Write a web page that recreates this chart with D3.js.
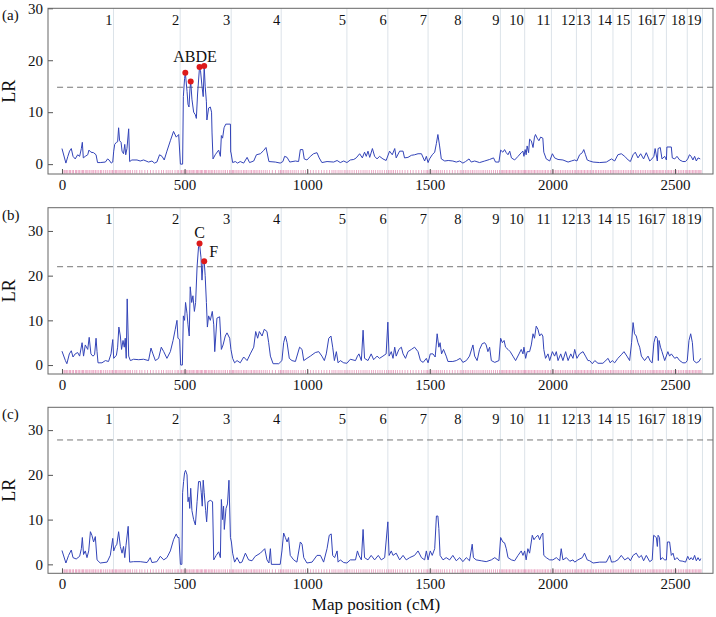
<!DOCTYPE html>
<html><head><meta charset="utf-8">
<script src="https://cdn.jsdelivr.net/npm/d3@7"></script>
<style>
body{margin:0;background:#fff;}
svg, svg text{font-family:"Liberation Serif","Times New Roman",serif;}
</style></head><body>
<svg id="chart" width="716" height="617"></svg>
<script>
// ---------------- data ----------------
const chromEnds = [210,482,690,894,1162,1329,1493,1633,1788,1887,1996,2098,2159,2247,2322,2410,2465,2550,2612];
const chromLabels = ["1","2","3","4","5","6","7","8","9","10","11","12","13","14","15","16","17","18","19"];
const xTicks = [0,500,1000,1500,2000,2500];
const yTicks = [0,10,20,30];
const panelNames = ["(a)","(b)","(c)"];
const thresholds = [14.8, 22.0, 27.8];

const seriesA = [[0,3.0],[16,0.2],[24,1.5],[31,2.5],[38,3.0],[45,1.5],[54,1.0],[64,1.8],[72,1.5],[79,3.0],[83,4.2],[87,1.2],[95,1.5],[105,1.8],[110,2.7],[118,2.3],[129,2.2],[139,1.8],[145,0.3],[156,0.3],[177,0.4],[186,1.0],[192,0.8],[201,0.2],[207,0.4],
[211,2.5],[215,3.8],[222,4.2],[227,4.3],[231,7.0],[235,4.5],[241,4.2],[245,2.5],[251,2.0],[256,3.8],[260,1.8],[265,3.0],[272,6.8],[276,0.5],[285,0.8],[306,0.8],[319,0.6],[333,0.8],[353,0.4],[367,0.6],[377,0.2],[387,0.4],[398,1.8],[408,1.5],[417,0.8],[428,2.5],[442,4.5],[455,6.3],[466,5.2],[476,5.7],
[483,0],[492,0],[495,13.0],[500,16.5],[503,17.6],[510,14.0],[514,11.5],[518,11.0],[522,14.5],[525,15.9],[530,12.5],[537,10.0],[544,9.5],[548,8.8],[553,13.5],[561,18.7],[565,18.0],[571,15.0],[576,13.0],[580,18.9],[584,15.0],[589,12.0],[591,8.5],[598,10.8],[605,11.0],[610,10.0],[612,6.0],[616,1.0],[625,1.8],[639,2.7],[646,1.5],[650,5.5],[655,5.0],[661,7.0],[668,7.7],[687,7.7],[688,2.3],[689,2.3],
[696,0.3],[707,0.5],[716,0.2],[727,0.5],[741,0.2],[755,1.3],[765,0.3],[782,0.6],[793,1.8],[809,2.0],[822,2.6],[832,3.2],[844,0.5],[870,0.4],[890,0.2],
[901,0.5],[908,1.5],[918,1.3],[929,0.4],[952,0.6],[965,0.5],[972,2.8],[982,2.8],[988,1.0],[999,0.8],[1013,1.5],[1026,2.0],[1040,2.2],[1049,1.2],[1060,0.3],[1081,0.5],[1108,0.4],[1122,0.7],[1135,0.3],[1149,0.6],[1162,0.3],
[1176,0.8],[1190,0.9],[1200,1.2],[1214,2.0],[1225,1.2],[1234,2.3],[1241,1.5],[1248,2.5],[1255,1.3],[1266,3.0],[1275,1.5],[1285,1.0],[1295,1.5],[1309,1.0],[1322,0.7],
[1336,2.5],[1347,1.8],[1357,3.0],[1363,1.2],[1377,2.5],[1391,2.5],[1397,1.2],[1411,1.3],[1425,1.7],[1438,1.8],[1452,2.0],[1466,2.0],[1479,0.6],[1486,1.5],[1493,0.3],
[1499,1.0],[1510,1.8],[1520,2.3],[1527,4.0],[1533,5.7],[1540,3.5],[1547,1.0],[1561,0.6],[1575,0.7],[1594,0.6],[1608,0.4],[1622,0.6],
[1635,0.2],[1646,0.5],[1660,1.0],[1669,0.4],[1683,0.6],[1703,0.3],[1724,0.6],[1744,0.9],[1760,1.2],[1768,0.4],[1782,0.4],
[1789,2.7],[1798,2.3],[1805,2.8],[1812,2.2],[1819,1.8],[1826,2.5],[1833,1.2],[1846,0.8],[1860,1.5],[1873,2.2],[1880,2.5],[1884,1.5],
[1889,2.8],[1893,1.8],[1897,3.5],[1903,2.2],[1907,4.8],[1914,4.5],[1921,3.2],[1927,5.2],[1931,5.7],[1938,5.0],[1945,4.5],[1952,5.2],[1961,5.0],[1965,2.3],[1975,1.0],[1989,0.6],
[2000,2.0],[2009,1.2],[2023,0.9],[2043,0.8],[2064,0.4],[2077,0.6],[2091,0.8],
[2100,0.6],[2111,1.8],[2122,2.2],[2128,2.8],[2135,1.8],[2142,0.8],[2152,0.6],
[2166,0.4],[2193,0.3],[2220,0.4],[2241,1.0],
[2254,0.6],[2267,1.8],[2281,2.0],[2295,1.5],[2309,0.8],[2318,0.5],
[2329,1.8],[2338,2.3],[2349,1.2],[2360,2.0],[2372,1.0],[2383,2.2],[2397,0.6],[2406,1.0],
[2414,1.5],[2419,3.0],[2428,0.6],[2431,3.0],[2440,3.2],[2447,1.0],[2458,1.5],
[2465,0.8],[2467,3.3],[2485,3.3],[2489,1.2],[2499,1.0],[2508,1.5],[2519,0.8],[2532,0.5],[2543,0.5],
[2552,1.0],[2559,1.8],[2566,1.5],[2573,0.8],[2580,1.5],[2587,0.6],[2594,1.2],[2603,1.0]];

const seriesB = [[0,3.1],[14,1.0],[20,0.3],[30,2.5],[38,3.2],[45,1.8],[54,2.5],[64,2.8],[72,2.0],[82,5.0],[88,2.0],[95,4.5],[105,3.5],[111,6.2],[118,2.5],[126,2.0],[133,2.3],[139,6.0],[143,3.0],[147,0.5],[163,0.5],[177,1.0],[190,0.8],[200,2.5],[207,5.7],
[211,1.5],[222,2.2],[227,4.0],[232,8.5],[238,6.5],[243,3.5],[249,5.5],[254,4.0],[258,6.0],[262,1.5],[266,14.8],[272,2.0],[279,1.0],[292,1.3],[313,1.2],[333,1.3],[353,1.0],[363,3.8],[371,2.5],[381,1.0],[394,1.5],[405,4.0],[415,3.0],[428,1.5],[442,3.0],[453,5.5],[462,8.0],[469,10.0],[473,6.0],[480,5.7],
[484,0],[491,0],[495,11.0],[500,10.0],[504,14.0],[510,11.5],[514,9.0],[519,6.5],[523,17.5],[529,14.0],[534,15.5],[540,12.0],[545,14.0],[551,22.0],[557,26.5],[561,27.2],[567,24.0],[571,19.0],[576,23.5],[580,23.2],[584,20.0],[589,14.0],[593,8.5],[598,11.0],[605,10.0],[613,12.0],[619,9.0],[623,3.0],[632,10.5],[643,10.8],[650,3.5],[657,4.5],[666,6.5],[673,7.2],[684,6.0],[689,3.5],
[696,1.5],[704,0.5],[714,1.0],[727,0.5],[741,1.8],[755,1.0],[768,2.5],[782,4.0],[790,7.5],[798,6.0],[805,7.5],[816,6.5],[825,8.0],[836,7.5],[843,5.0],[850,2.0],[861,0.3],[884,0.3],
[897,1.0],[904,5.0],[911,6.5],[918,5.0],[927,1.5],[938,1.0],[952,0.8],[969,4.0],[979,3.5],[986,1.0],[999,1.5],[1013,2.0],[1033,2.8],[1047,3.0],[1060,2.0],[1070,1.0],[1078,2.5],[1088,6.0],[1097,6.5],[1104,4.0],[1111,1.0],[1119,3.0],[1126,0.5],[1135,1.0],[1149,0.5],[1162,0.4],
[1176,1.3],[1197,1.0],[1205,2.0],[1211,2.5],[1221,1.0],[1228,7.8],[1234,1.5],[1248,1.0],[1261,2.5],[1271,1.2],[1285,2.0],[1295,1.5],[1309,2.0],[1322,2.5],[1329,9.6],
[1334,2.0],[1343,3.0],[1350,1.5],[1357,4.0],[1363,2.0],[1374,3.5],[1384,4.0],[1391,2.5],[1401,1.5],[1411,3.0],[1425,3.5],[1438,4.0],[1452,3.0],[1462,1.0],[1473,0.6],[1486,1.5],[1493,0.5],
[1502,2.5],[1513,2.5],[1522,1.8],[1530,7.0],[1537,4.0],[1542,5.0],[1548,2.5],[1556,3.5],[1567,2.0],[1574,0.8],[1594,0.8],[1608,1.0],[1624,1.5],
[1635,0.6],[1649,1.0],[1662,2.0],[1676,4.5],[1683,2.0],[1693,1.0],[1703,3.5],[1714,4.8],[1724,5.0],[1730,4.5],[1737,3.0],[1744,4.0],[1751,1.0],[1765,0.6],[1782,1.0],
[1789,6.0],[1796,5.0],[1803,5.5],[1809,4.0],[1819,3.5],[1828,3.0],[1839,2.0],[1850,1.0],[1864,2.5],[1873,3.5],[1880,2.5],[1884,4.0],[1891,1.5],[1897,3.0],
[1907,3.0],[1914,4.5],[1921,7.0],[1927,6.0],[1934,8.7],[1941,8.0],[1948,6.5],[1955,7.0],[1961,6.5],[1965,3.5],[1972,1.5],[1982,2.5],[1989,1.0],
[2000,3.0],[2009,2.0],[2016,3.0],[2023,1.0],[2034,2.5],[2043,1.0],[2054,3.0],[2064,1.0],[2075,2.5],[2084,1.5],[2091,3.5],
[2100,1.5],[2111,2.5],[2125,3.0],[2135,2.0],[2145,1.0],[2152,1.0],
[2163,0.3],[2173,1.0],[2186,0.4],[2206,0.4],[2227,1.5],[2236,0.5],[2244,1.0],
[2254,0.5],[2267,1.5],[2281,2.3],[2292,3.0],[2304,2.0],[2315,1.0],
[2323,5.0],[2329,9.5],[2335,7.0],[2342,6.5],[2349,5.0],[2356,4.0],[2363,2.0],[2376,1.0],[2390,2.0],[2400,0.8],[2407,0.5],
[2414,5.0],[2421,6.5],[2428,6.0],[2432,1.0],[2435,5.5],[2441,4.0],[2447,3.0],[2458,1.0],
[2471,3.0],[2478,2.0],[2485,2.5],[2499,1.5],[2508,1.8],[2519,1.0],[2532,0.5],[2543,0.5],
[2550,1.0],[2557,5.5],[2564,7.0],[2571,5.0],[2576,1.0],[2587,0.5],[2598,0.8],[2605,1.5]];

const seriesC = [[0,3.1],[16,0.3],[27,2.0],[38,3.2],[45,1.5],[58,1.2],[72,1.8],[79,3.5],[83,6.0],[88,2.2],[95,3.0],[102,1.5],[109,3.0],[116,7.3],[122,6.5],[129,5.0],[136,6.2],[143,1.0],[156,0.3],[184,0.5],[197,2.0],[207,5.8],
[211,3.0],[218,4.0],[224,4.5],[231,7.3],[238,4.0],[245,2.5],[251,4.0],[256,1.5],[261,4.2],[270,8.5],[276,0.5],[292,0.6],[319,0.6],[347,0.4],[360,1.5],[367,0.4],[387,0.6],[401,1.8],[415,1.0],[428,1.5],[442,3.0],[455,5.5],[466,6.8],[472,6.0],[477,6.0],
[483,0],[489,0],[492,16.0],[496,18.5],[500,20.5],[504,21.0],[510,20.0],[514,14.0],[518,15.0],[521,12.5],[525,17.0],[530,12.0],[537,10.0],[544,8.8],[551,14.0],[557,18.5],[564,18.5],[568,16.0],[572,13.0],[576,18.8],[580,16.0],[586,12.0],[590,9.5],[595,14.0],[605,14.3],[614,14.0],[619,1.0],[629,2.0],[639,2.8],[646,1.5],[650,14.5],[655,10.0],[659,13.0],[662,7.8],[669,12.5],[675,13.5],[681,18.8],[687,6.0],[691,5.0],
[696,2.5],[704,0.5],[714,1.5],[725,0.3],[734,0.5],[748,2.5],[761,1.0],[775,0.8],[788,1.8],[809,2.5],[827,3.5],[836,1.0],[844,0.3],[850,3.5],[854,0],[890,0],
[897,3.0],[904,7.0],[911,6.0],[918,5.0],[924,6.0],[931,2.0],[945,1.0],[958,0.5],[972,5.0],[979,4.5],[986,1.5],[999,0.3],[1020,0.5],[1040,2.0],[1054,2.0],[1067,0.5],[1081,3.5],[1090,6.5],[1098,6.8],[1104,2.0],[1112,1.5],[1122,3.0],[1126,0.5],[1135,1.0],[1149,0.4],[1162,0.3],
[1176,1.0],[1197,1.0],[1205,3.0],[1211,2.0],[1221,1.0],[1228,7.8],[1234,1.5],[1248,1.0],[1261,2.0],[1275,1.0],[1290,2.0],[1302,1.0],[1316,1.5],[1329,9.5],
[1334,2.0],[1343,3.0],[1350,2.0],[1363,2.5],[1377,1.0],[1391,2.0],[1404,1.0],[1418,1.5],[1438,2.0],[1452,3.0],[1466,1.5],[1479,1.0],[1486,3.0],[1493,1.0],
[1502,3.0],[1510,2.0],[1520,3.5],[1527,10.8],[1533,10.8],[1537,8.0],[1542,2.0],[1554,1.0],[1567,1.5],[1581,1.0],[1594,2.0],[1608,0.8],[1622,1.5],
[1635,0.6],[1649,1.5],[1662,0.8],[1673,4.5],[1678,1.5],[1689,1.0],[1710,0.8],[1730,0.6],[1751,1.0],[1765,1.5],[1782,0.8],
[1789,6.0],[1798,5.0],[1805,4.8],[1812,3.5],[1819,1.5],[1833,1.0],[1846,0.8],[1860,2.0],[1873,3.0],[1880,2.0],[1887,3.0],
[1893,1.0],[1900,3.5],[1907,2.5],[1918,6.5],[1925,5.5],[1931,6.0],[1941,6.5],[1948,5.5],[1955,6.5],[1961,7.0],[1965,2.0],[1975,1.5],[1989,1.0],
[2002,1.0],[2016,1.5],[2030,0.8],[2036,3.5],[2043,1.0],[2057,1.5],[2071,0.7],[2084,1.0],[2091,0.5],
[2104,1.0],[2122,1.5],[2131,2.5],[2142,1.0],[2152,0.8],
[2166,0.3],[2193,0.5],[2220,0.5],[2234,2.0],[2241,0.5],
[2254,0.6],[2267,1.0],[2281,2.0],[2295,1.0],[2309,1.5],[2318,0.8],
[2329,2.0],[2342,2.5],[2353,1.5],[2363,2.0],[2372,0.8],[2383,2.0],[2397,0.6],[2407,1.0],
[2413,6.5],[2424,6.0],[2428,4.0],[2431,6.5],[2437,6.0],[2441,1.0],[2448,1.5],[2458,1.0],
[2465,1.0],[2469,5.0],[2478,5.0],[2485,2.0],[2492,2.5],[2499,1.0],[2508,1.5],[2519,0.8],[2532,0.7],[2543,0.5],
[2552,1.8],[2559,1.0],[2566,1.5],[2573,1.0],[2580,2.0],[2587,0.8],[2594,1.5],[2601,0.8],[2605,1.3]];

const peaksA = [["A",503,17.6],["B",525,15.9],["D",561,18.7],["E",580,18.9]];
const peaksB = [["C",561,27.2],["F",580,23.2]];
const peaksC = [];

const markers = [3,9,13,19,24,31,35,42,47,55,59,66,71,78,84,88,95,101,106,113,119,126,130,137,143,150,157,162,170,178,185,193,200,206,
212,218,223,229,236,241,248,254,259,266,273,279,288,297,305,317,326,338,349,361,372,384,395,406,414,425,433,441,450,461,470,476,
485,488,494,499,505,509,514,520,526,531,536,542,549,553,558,564,569,574,581,585,590,597,603,609,615,622,629,637,644,652,660,667,675,683,689,
695,700,706,713,719,726,733,740,746,752,759,767,773,780,786,792,799,806,813,821,829,837,846,858,871,884,891,
897,903,910,917,923,931,939,947,955,964,975,984,993,1003,1014,1025,1036,1047,1058,1069,1080,1091,1101,1109,1117,1126,1134,1142,1151,1158,
1166,1174,1183,1192,1201,1210,1219,1228,1236,1244,1253,1262,1270,1279,1288,1297,1306,1315,1324,
1332,1338,1345,1352,1360,1368,1378,1388,1399,1410,1421,1432,1444,1455,1466,1476,1485,1491,
1497,1505,1513,1521,1528,1535,1543,1551,1560,1570,1581,1592,1603,1614,1624,1631,
1638,1645,1652,1659,1667,1674,1681,1689,1697,1705,1713,1720,1728,1736,1744,1752,1760,1768,1776,1784,
1791,1796,1802,1807,1813,1819,1825,1831,1837,1843,1849,1856,1862,1868,1875,1881,1886,
1890,1896,1902,1908,1914,1921,1927,1933,1940,1946,1953,1959,1966,1972,1979,1985,1992,
1999,2005,2012,2019,2026,2033,2040,2047,2054,2061,2068,2075,2082,2089,2095,
2101,2107,2113,2119,2125,2131,2137,2143,2149,2155,
2162,2168,2175,2181,2188,2195,2202,2209,2216,2223,2230,2237,2243,
2250,2256,2263,2269,2276,2283,2290,2297,2304,2311,2318,
2325,2331,2338,2345,2352,2359,2366,2373,2380,2387,2394,2401,2407,
2413,2418,2424,2430,2436,2442,2448,2454,2461,
2468,2474,2480,2486,2493,2500,2507,2514,2521,2528,2535,2542,2548,
2553,2559,2565,2571,2577,2583,2589,2595,2601,2606];

// ---------------- layout ----------------
const FONT = '"Liberation Serif","Times New Roman",serif';
const svg = d3.select("#chart");
const left = 48, right = 713;
const panels = [
  {name: panelNames[0], top: 8.3, bottom: 174, ydom: [-1.9, 30], series: seriesA, peaks: peaksA, thr: thresholds[0]},
  {name: panelNames[1], top: 207.7, bottom: 374, ydom: [-2.0, 35.2], series: seriesB, peaks: peaksB, thr: thresholds[1]},
  {name: panelNames[2], top: 407.3, bottom: 573.3, ydom: [-2.0, 35.1], series: seriesC, peaks: peaksC, thr: thresholds[2]}
];
const labelOffsets = {C:[0,-5],F:[5,-4]};

const x = d3.scaleLinear().domain([-57, 2655]).range([left, right]);

function styleText(sel, size) {
  return sel.attr("font-size", size).attr("fill", "#111").style("font-family", FONT);
}

panels.forEach((p, i) => {
  const y = d3.scaleLinear().domain(p.ydom).range([p.bottom, p.top]);
  const g = svg.append("g");
  const clipId = "clip" + i;
  svg.append("clipPath").attr("id", clipId).append("rect")
    .attr("x", left).attr("y", p.top).attr("width", right - left).attr("height", p.bottom - p.top);

  // chromosome boundaries
  g.selectAll("line.chr").data(chromEnds).join("line")
    .attr("x1", d => x(d)).attr("x2", d => x(d))
    .attr("y1", p.top).attr("y2", p.bottom)
    .attr("stroke", "#dce3e9").attr("stroke-width", 1);

  // chromosome labels
  styleText(g.selectAll("text.chr").data(chromEnds).join("text")
    .attr("x", (d, j) => x(d) - (j === 17 ? 1.8 : 1)).attr("y", p.top + 16.5)
    .attr("text-anchor", "end"), 14.5)
    .text((d, j) => chromLabels[j]);

  // threshold
  g.append("line")
    .attr("x1", x(-20)).attr("x2", right)
    .attr("y1", y(p.thr)).attr("y2", y(p.thr))
    .attr("stroke", "#777").attr("stroke-width", 1).attr("stroke-dasharray", "6,4");

  // rug
  g.selectAll("line.rug").data(markers).join("line")
    .attr("x1", d => x(d)).attr("x2", d => x(d))
    .attr("y1", p.bottom - 0.5).attr("y2", p.bottom - 4)
    .attr("stroke", "#e27aa6").attr("stroke-width", 0.8).attr("opacity", 0.8);

  // curve
  const line = d3.line().x(d => x(d[0])).y(d => y(d[1]));
  g.append("path").datum(p.series)
    .attr("clip-path", `url(#${clipId})`)
    .attr("d", line).attr("fill", "none")
    .attr("stroke", "#3344b8").attr("stroke-width", 1).attr("stroke-linejoin", "round");

  // peaks
  g.selectAll("circle.pk").data(p.peaks).join("circle")
    .attr("cx", d => x(d[1])).attr("cy", d => y(d[2])).attr("r", 3)
    .attr("fill", "#dd1a1a");
  if (i === 0 && p.peaks.length) {
    const mx = d3.mean(p.peaks, d => x(d[1]));
    const my = d3.min(p.peaks, d => y(d[2]));
    styleText(g.append("text").attr("x", mx).attr("y", my - 4).attr("text-anchor", "middle"), 16)
      .text(p.peaks.map(d => d[0]).join(""));
  } else {
    styleText(g.selectAll("text.pk").data(p.peaks).join("text")
      .attr("x", d => x(d[1]) + labelOffsets[d[0]][0]).attr("y", d => y(d[2]) + labelOffsets[d[0]][1])
      .attr("text-anchor", d => labelOffsets[d[0]][0] > 0 ? "start" : "middle"), 16)
      .text(d => d[0]);
  }

  // axes
  const ax = g.append("g").attr("transform", `translate(0,${p.bottom})`)
    .call(d3.axisBottom(x).tickValues(xTicks).tickSize(-5).tickPadding(5).tickFormat(d3.format("d")));
  const ay = g.append("g").attr("transform", `translate(${left},0)`)
    .call(d3.axisLeft(y).tickValues(yTicks).tickSize(-5).tickPadding(5));
  [ax, ay].forEach(a => {
    a.attr("font-family", null);
    a.select(".domain").remove();
    a.selectAll("line").attr("stroke", "#555");
    styleText(a.selectAll("text"), 15);
  });

  // frame
  g.append("rect").attr("x", left).attr("y", p.top)
    .attr("width", right - left).attr("height", p.bottom - p.top)
    .attr("fill", "none").attr("stroke", "#666").attr("stroke-width", 1);

  // panel label
  styleText(g.append("text").attr("x", 2).attr("y", p.top + 12), 15).text(p.name);

  // y title
  styleText(g.append("text").attr("transform", `translate(15,${(p.top + p.bottom) / 2}) rotate(-90)`)
    .attr("text-anchor", "middle"), 18).text("LR");
});

styleText(svg.append("text").attr("x", 376).attr("y", 610).attr("text-anchor", "middle"), 17)
  .text("Map position (cM)");
</script>
</body></html>
